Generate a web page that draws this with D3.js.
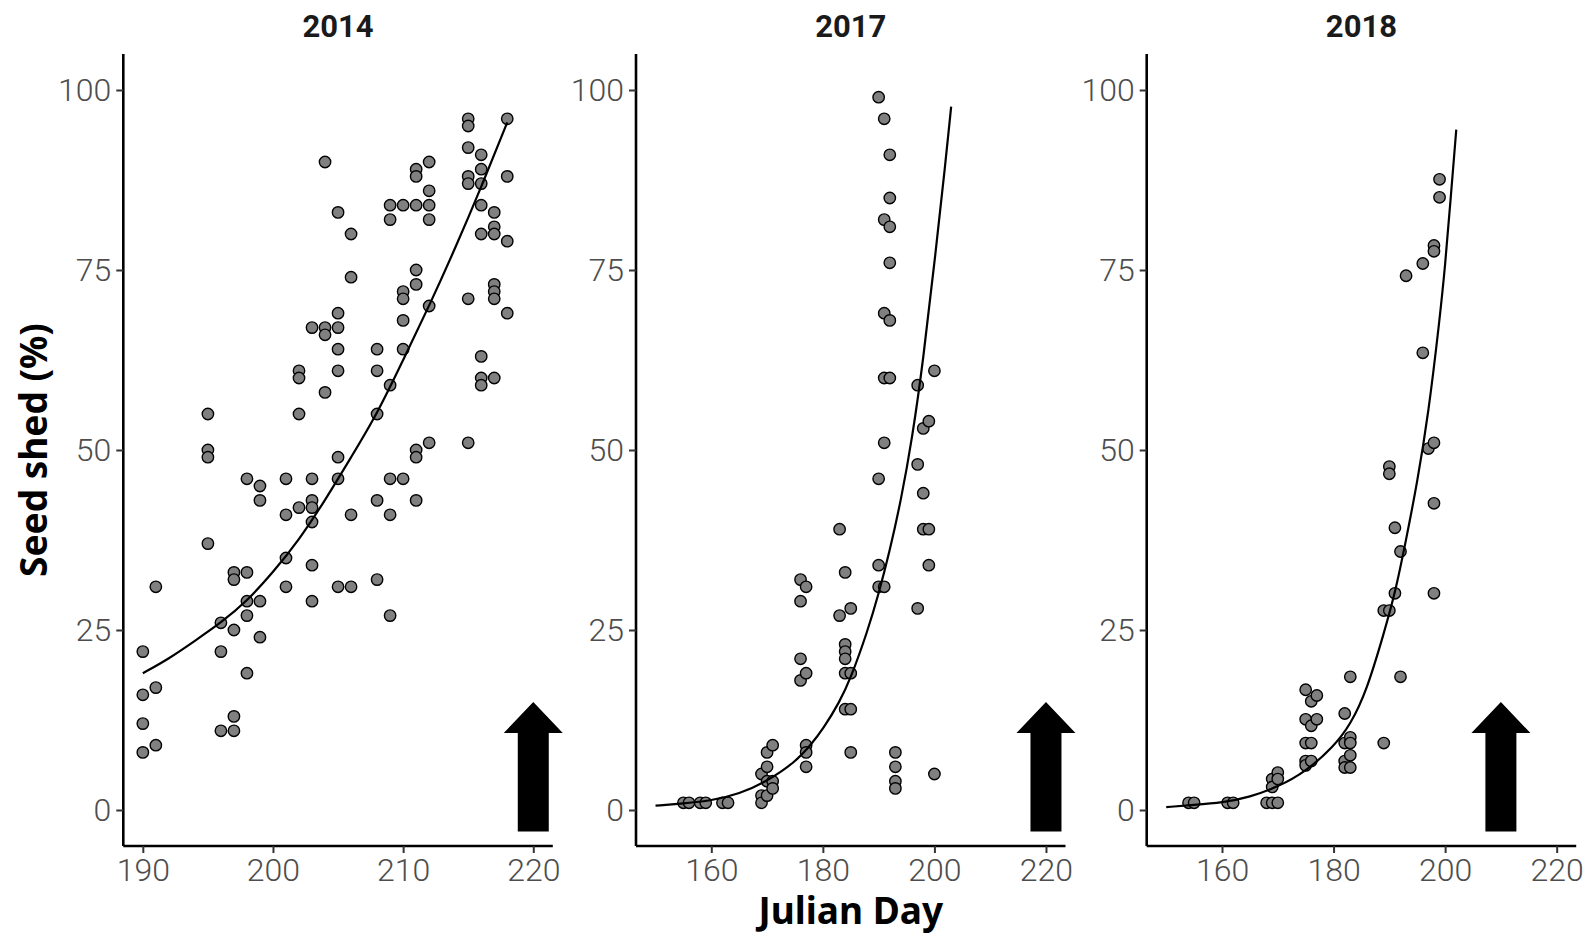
<!DOCTYPE html>
<html>
<head>
<meta charset="utf-8">
<script src="https://cdn.jsdelivr.net/npm/d3@7"></script>
<style>
  body { margin: 0; background: #fff; }
  svg { display: block; }
</style>
</head>
<body>
<div id="chart"></div>
<script>
// panel titles
var years = ["2014", "2017", "2018"];

// 2014 observations (Julian day, % seed shed)
var days2014 = [190,190,190,190, 191,191,191, 195,195,195,195, 196,196,196, 197,197,197,197,197,
  198,198,198,198,198, 199,199,199,199, 201,201,201,201, 202,202,202,202,
  203,203,203,203,203,203,203, 204,204,204,204, 205,205,205,205,205,205,205,205,
  206,206,206,206, 208,208,208,208,208, 209,209,209,209,209,209, 210,210,210,210,210,210,
  211,211,211,211,211,211,211,211, 212,212,212,212,212,212, 215,215,215,215,215,215,215,
  216,216,216,216,216,216,216,216, 217,217,217,217,217,217,217, 218,218,218,218];
var shed2014 = [22,16,12,8, 31,17,9, 55,50,49,37, 26,22,11, 33,32,25,13,11,
  46,33,29,27,19, 45,43,29,24, 46,41,35,31, 61,60,55,42,
  67,46,43,42,40,34,29, 90,67,66,58, 83,69,67,64,61,49,46,31,
  80,74,41,31, 64,61,55,43,32, 84,82,59,46,41,27, 84,72,71,68,64,46,
  89,88,84,75,73,50,49,43, 90,86,84,82,70,51, 96,95,92,88,87,71,51,
  91,89,87,84,80,63,60,59, 83,81,80,73,72,71,60, 96,88,79,69];

// 2017 observations
var days2017 = [155,156,158,159,162,163, 169,169,169, 170,170,170,170, 171,171,171,
  176,176,176,176, 177,177,177,177,177, 183,183, 184,184,184,184,184,184, 185,185,185,185,
  190,190,190,190, 191,191,191,191,191,191, 192,192,192,192,192,192, 193,193,193,193,
  197,197,197, 198,198,198, 199,199,199, 200,200];
var shed2017 = [1,1,1,1,1,1, 5,2,1, 8,6,4,2, 9,4,3,
  32,29,21,18, 31,19,9,8,6, 39,27, 33,23,22,21,19,14, 28,19,14,8,
  99,46,34,31, 96,82,69,60,51,31, 91,85,81,76,68,60, 8,6,4,3,
  59,48,28, 53,44,39, 54,39,34, 61,5];

// 2018 observations
var days2018 = [154,155,161,162, 168, 169,169,169, 170,170,170,
  175,175,175,175,175, 176,176,176,176, 177,177, 182,182,182,182, 183,183,183,183,183,
  189,189, 190,190,190, 191,191, 192,192, 193, 196,196, 197, 198,198,198,198,198, 199,199];
var shed2018 = [1,1,1,1, 1, 4.3,3.2,1, 5.2,4.3,1,
  16.7,12.6,9.3,6.8,6.2, 15.1,11.7,9.3,6.8, 15.9,12.6, 13.4,9.3,6.8,5.9, 18.5,10.1,9.3,7.6,5.9,
  27.7,9.3, 47.7,46.7,27.7, 39.2,30.1, 35.9,18.5, 74.2, 75.9,63.5, 50.2, 78.4,77.6,51,42.6,30.1, 87.6,85.1];

// fitted curves
var fitDays2014 = [190,192,194,196,198,200,202,204,206,208,210,212,214,216,218];
var fitShed2014 = [19,21,23.5,26,29,33,37.5,43,49,55,62.5,70,78,86.5,95.5];
var fitDays2017 = [150,155,160,165,170,175,178,180,183,185,188,190,192,194,196,198,200,202,203];
var fitShed2017 = [0.6,0.9,1.3,2.2,4,6.6,9.2,11.2,15,18.3,24.8,30,36,43,51.5,62.5,76,90,97.7];
var fitDays2018 = [150,155,160,165,170,175,180,183,186,189,191,193,195,197,199,200,201,202];
var fitShed2018 = [0.4,0.7,1.0,1.8,3.2,5.3,8.8,11.8,16.7,24.5,30,37.5,45.5,55,68,75.5,85,94.5];

// arrow marking harvest day in each panel
var arrowDays = [220, 220, 210];
var arrowFrom = -3, arrowTo = 15;

var xDomains = [[188.5, 221.5], [146.5, 223.5], [146.5, 223.5]];
var xTicks = [[190, 200, 210, 220], [160, 180, 200, 220], [160, 180, 200, 220]];
var yTicks = [0, 25, 50, 75, 100];

var obsDays = [days2014, days2017, days2018];
var obsShed = [shed2014, shed2017, shed2018];
var fitDays = [fitDays2014, fitDays2017, fitDays2018];
var fitShed = [fitShed2014, fitShed2017, fitShed2018];

var width = 1595, height = 937;
var panelLeft = [123.3, 636, 1146.7];
var panelWidth = 429.5;
var plotTop = 54, plotBottom = 846;

var svg = d3.select("#chart").append("svg")
  .attr("width", width)
  .attr("height", height);

var y = d3.scaleLinear().domain([-5, 105]).range([plotBottom, plotTop]);

years.forEach(function(yr, i) {
  var x = d3.scaleLinear().domain(xDomains[i]).range([panelLeft[i], panelLeft[i] + panelWidth]);
  var g = svg.append("g");

  // x axis
  var xAxis = g.append("g")
    .attr("transform", "translate(0," + plotBottom + ")")
    .call(d3.axisBottom(x).tickValues(xTicks[i]).tickSize(7).tickPadding(5));
  // y axis
  var yAxis = g.append("g")
    .attr("transform", "translate(" + panelLeft[i] + ",0)")
    .call(d3.axisLeft(y).tickValues(yTicks).tickSize(7).tickPadding(5));

  [xAxis, yAxis].forEach(function(a) {
    a.select(".domain").attr("stroke", "#000").attr("stroke-width", 2.6);
    a.selectAll(".tick line").attr("stroke", "#333").attr("stroke-width", 2);
    a.selectAll(".tick text")
      .attr("fill", "#4d4d4d")
      .style("font-family", "Roboto, sans-serif")
      .style("font-weight", "300")
      .style("font-size", "32px");
  });
  // plain axis lines meeting at the corner, like ggplot
  xAxis.select(".domain").attr("d", "M" + panelLeft[i] + ",0H" + (panelLeft[i] + panelWidth));
  yAxis.select(".domain").attr("d", "M0," + plotTop + "V" + plotBottom);

  // points
  var pts = obsDays[i].map(function(d, k) { return {day: d, shed: obsShed[i][k]}; });
  g.selectAll("circle.pt")
    .data(pts)
    .enter().append("circle")
    .attr("class", "pt")
    .attr("cx", function(d) { return x(d.day); })
    .attr("cy", function(d) { return y(d.shed); })
    .attr("r", 5.7)
    .attr("fill", "#808080")
    .attr("stroke", "#000")
    .attr("stroke-width", 1.4);

  // fitted curve
  var fit = fitDays[i].map(function(d, k) { return [d, fitShed[i][k]]; });
  var line = d3.line()
    .x(function(d) { return x(d[0]); })
    .y(function(d) { return y(d[1]); })
    .curve(d3.curveBasis);
  g.append("path")
    .datum(fit)
    .attr("d", line)
    .attr("fill", "none")
    .attr("stroke", "#000")
    .attr("stroke-width", 2.2);

  // harvest arrow
  var cx = x(arrowDays[i]), yTip = y(arrowTo), yBot = y(arrowFrom);
  var shaftW = 31, headW = 59, headH = 31;
  var yBase = yTip + headH;
  g.append("path")
    .attr("d", "M" + (cx - shaftW / 2) + "," + yBot +
      "V" + yBase + "H" + (cx - headW / 2) +
      "L" + cx + "," + yTip +
      "L" + (cx + headW / 2) + "," + yBase +
      "H" + (cx + shaftW / 2) + "V" + yBot + "Z")
    .attr("fill", "#000");

  // panel title
  g.append("text")
    .attr("x", panelLeft[i] + panelWidth / 2)
    .attr("y", 37)
    .attr("text-anchor", "middle")
    .style("font-family", "Roboto, sans-serif")
    .style("font-weight", "bold")
    .style("font-size", "31px")
    .attr("fill", "#1a1a1a")
    .text(yr);
});

// axis titles
svg.append("text")
  .attr("x", panelLeft[1] + panelWidth / 2)
  .attr("y", 924)
  .attr("text-anchor", "middle")
  .style("font-family", "'Noto Sans', sans-serif")
  .style("font-weight", "bold")
  .style("font-size", "37px")
  .text("Julian Day");

svg.append("text")
  .attr("transform", "translate(47," + ((plotTop + plotBottom) / 2) + ") rotate(-90)")
  .attr("text-anchor", "middle")
  .style("font-family", "'Noto Sans', sans-serif")
  .style("font-weight", "bold")
  .style("font-size", "37px")
  .text("Seed shed (%)");
</script>
</body>
</html>
